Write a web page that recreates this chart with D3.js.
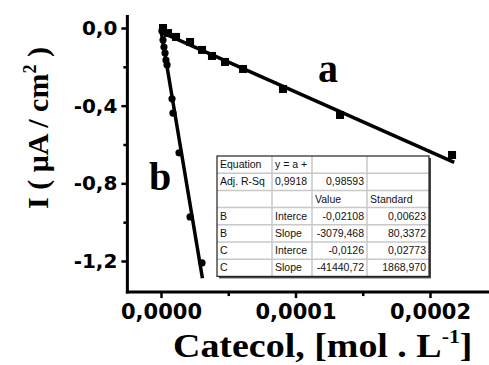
<!DOCTYPE html>
<html>
<head>
<meta charset="utf-8">
<script src="https://cdn.jsdelivr.net/npm/d3@7/dist/d3.min.js"></script>
<style>
  html, body { margin: 0; padding: 0; background: #fff; }
  svg { display: block; }
</style>
</head>
<body>
<svg id="chart" width="489" height="365"></svg>
<script>
// Current vs catechol concentration, two electrodes (a: squares, b: circles)
const concA = [0.0000015, 0.0000052, 0.0000112, 0.0000216, 0.0000305, 0.0000379, 0.0000476, 0.000061, 0.0000907, 0.0001331, 0.0002164];
const currA = [0.0, -0.026, -0.046, -0.072, -0.113, -0.144, -0.175, -0.211, -0.314, -0.448, -0.654];

const concB = [0.0000007, 0.0000015, 0.0000022, 0.000003, 0.0000037, 0.0000045, 0.0000082, 0.0000089, 0.0000134, 0.0000216, 0.0000305];
const currB = [-0.015, -0.062, -0.098, -0.129, -0.165, -0.19, -0.365, -0.438, -0.643, -0.973, -1.21];

// Linear fits y = a + b x
const fitIntercepts = [-0.02108, -0.0126];
const fitSlopes = [-3079.468, -41440.72];
const fitEnds = [0.000218, 0.0000308];

const yTicks = [0, -0.4, -0.8, -1.2];
const yMinor = [-0.2, -0.6, -1.0];
const xTicks = [0, 0.0001, 0.0002];
const xMinor = [0.00005, 0.00015];

const tableRows = [
  ["Equation", "y = a +", "", ""],
  ["Adj. R-Sq", "0,9918", "0,98593", ""],
  ["", "", "Value", "Standard"],
  ["B", "Interce", "-0,02108", "0,00623"],
  ["B", "Slope", "-3079,468", "80,3372"],
  ["C", "Interce", "-0,0126", "0,02773"],
  ["C", "Slope", "-41440,72", "1868,970"]
];

const svg = d3.select("#chart");

const x = d3.scaleLinear().domain([0, 0.0002]).range([161, 430]);
const y = d3.scaleLinear().domain([0, -1.2]).range([28, 261]);

const xMin = -0.000025, xMax = 0.000245;
const yTop = 0.067, yBot = -1.36;
const comma = s => s.replace(".", ",");

const tickFont = "'DejaVu Sans', sans-serif";

// Axes
const gy = svg.append("g").attr("transform", `translate(${x(xMin)},0)`);
gy.append("line").attr("x1", 0).attr("x2", 0).attr("y1", y(yTop)).attr("y2", y(yBot) + 1.5)
  .attr("stroke", "#000").attr("stroke-width", 3);
gy.call(g => {
  const ax = d3.axisLeft(y).tickValues(yTicks).tickSize(6).tickPadding(4)
    .tickFormat(d => comma(d3.format(".1f")(d)).replace("−", "-"));
  g.call(ax);
  g.select(".domain").remove();
  g.selectAll(".tick line").attr("stroke-width", 2.5);
  g.selectAll(".tick text").attr("font-family", tickFont).attr("font-weight", "bold")
    .attr("font-size", 20).attr("fill", "#000");
});
gy.append("g").call(d3.axisLeft(y).tickValues(yMinor).tickSize(4).tickFormat(""))
  .call(g => { g.select(".domain").remove(); g.selectAll(".tick line").attr("stroke-width", 2.5); });

const gx = svg.append("g").attr("transform", `translate(0,${y(yBot)})`);
gx.append("line").attr("x1", x(xMin) - 1.5).attr("x2", x(xMax)).attr("y1", 0).attr("y2", 0)
  .attr("stroke", "#000").attr("stroke-width", 3);
gx.call(g => {
  const ax = d3.axisBottom(x).tickValues(xTicks).tickSize(6).tickPadding(6)
    .tickFormat(d => comma(d3.format(".4f")(d)));
  g.call(ax);
  g.select(".domain").remove();
  g.selectAll(".tick line").attr("stroke-width", 2.5);
  g.selectAll(".tick text").attr("font-family", tickFont).attr("font-weight", "bold")
    .attr("font-size", 21).attr("fill", "#000");
});
gx.append("g").call(d3.axisBottom(x).tickValues(xMinor).tickSize(4).tickFormat(""))
  .call(g => { g.select(".domain").remove(); g.selectAll(".tick line").attr("stroke-width", 2.5); });

// Axis titles
const serif = "'Liberation Serif', 'Times New Roman', serif";
const xt = svg.append("text").attr("transform", "translate(173,357) scale(1.15,1)")
  .attr("text-anchor", "start")
  .attr("font-family", serif).attr("font-weight", "bold").attr("font-size", 33);
xt.append("tspan").text("Catecol, [mol . L");
xt.append("tspan").attr("font-size", 19).attr("dy", -14).text("-1");
xt.append("tspan").attr("dy", 14).text("]");

const yt = svg.append("text").attr("transform", "translate(48,128) rotate(-90)")
  .attr("text-anchor", "middle")
  .attr("font-family", serif).attr("font-weight", "bold").attr("font-size", 30);
yt.append("tspan").text("I ( \u03BCA / cm");
yt.append("tspan").attr("font-size", 18).attr("dy", -12).text("2");
yt.append("tspan").attr("dy", 12).text(" )");

// Fit lines
const line = d3.line().x(d => x(d[0])).y(d => y(d[1]));
fitSlopes.forEach((s, i) => {
  const pts = [[0, fitIntercepts[i]], [fitEnds[i], fitIntercepts[i] + s * fitEnds[i]]];
  svg.append("path").attr("d", line(pts)).attr("fill", "none")
    .attr("stroke", "#000").attr("stroke-width", 3.5);
});

// Markers
svg.append("g").selectAll("rect").data(concA.map((c, i) => [c, currA[i]])).join("rect")
  .attr("x", d => x(d[0]) - 4).attr("y", d => y(d[1]) - 4)
  .attr("width", 8).attr("height", 8).attr("fill", "#000");
svg.append("g").selectAll("circle").data(concB.map((c, i) => [c, currB[i]])).join("circle")
  .attr("cx", d => x(d[0])).attr("cy", d => y(d[1])).attr("r", 3.6).attr("fill", "#000");

// Series labels
svg.append("text").attr("x", 328).attr("y", 82).attr("text-anchor", "middle")
  .attr("font-family", serif).attr("font-weight", "bold").attr("font-size", 40).text("a");
svg.append("text").attr("x", 160).attr("y", 190).attr("text-anchor", "middle")
  .attr("font-family", serif).attr("font-weight", "bold").attr("font-size", 40).text("b");

// Fit results table
const colX = [217, 272, 312, 367, 429];
const rowTop = 156, rowH = 17.2;
const tb = svg.append("g");
const tW = colX[4] - colX[0], tH = rowH * tableRows.length;
tb.append("rect").attr("x", colX[0] + 2).attr("y", rowTop + 2).attr("width", tW).attr("height", tH).attr("fill", "#444");
tb.append("rect").attr("x", colX[0]).attr("y", rowTop).attr("width", tW).attr("height", tH).attr("fill", "#fff");
for (let r = 1; r < tableRows.length; r++) {
  tb.append("line").attr("x1", colX[0]).attr("x2", colX[4]).attr("y1", rowTop + r * rowH).attr("y2", rowTop + r * rowH)
    .attr("stroke", "#c8c8c8").attr("stroke-width", 1.5);
}
for (let c = 1; c < 4; c++) {
  tb.append("line").attr("x1", colX[c]).attr("x2", colX[c]).attr("y1", rowTop).attr("y2", rowTop + tH)
    .attr("stroke", "#c8c8c8").attr("stroke-width", 1.5);
}
tb.append("rect").attr("x", colX[0]).attr("y", rowTop).attr("width", tW).attr("height", tH)
  .attr("fill", "none").attr("stroke", "#222").attr("stroke-width", 1.2);
const rightAligned = (r, c) => (c >= 2 && r !== 2 && !(r === 1 && c === 1));
tableRows.forEach((row, r) => {
  row.forEach((txt, c) => {
    if (!txt) return;
    const ra = rightAligned(r, c);
    tb.append("text")
      .attr("x", ra ? colX[c + 1] - 3 : colX[c] + 3)
      .attr("y", rowTop + r * rowH + rowH / 2 + 3.5)
      .attr("text-anchor", ra ? "end" : "start")
      .attr("font-family", "'Liberation Sans', Arial, sans-serif")
      .attr("font-size", 10.5).attr("fill", "#111").text(txt);
  });
});
</script>
</body>
</html>
